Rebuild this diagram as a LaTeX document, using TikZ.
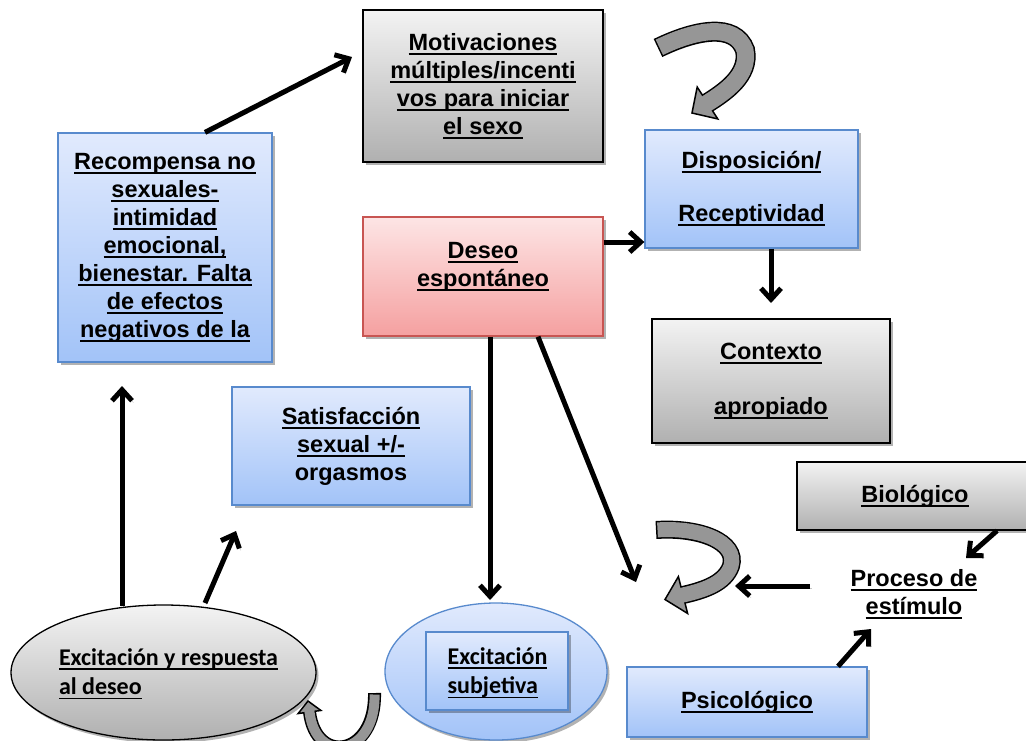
\documentclass[tikz,border=0pt]{standalone}
\usepackage{fontspec}
\usetikzlibrary{arrows.meta,shapes.geometric,shadows,calc}
\newfontfamily\arialfam{Liberation Sans}
\newfontfamily\califam{Carlito}
\newsavebox{\ulxbox}
\newcommand{\ulx}[1]{\sbox{\ulxbox}{#1}\rlap{\rule[-4.6pt]{\wd\ulxbox}{1.8pt}}\usebox{\ulxbox}}
\definecolor{bluetop}{RGB}{225,234,253}
\definecolor{bluebot}{RGB}{162,195,248}
\definecolor{bluedraw}{RGB}{88,138,205}
\definecolor{graytop}{RGB}{243,243,243}
\definecolor{graybot}{RGB}{176,176,176}
\definecolor{redtop}{RGB}{253,229,229}
\definecolor{redbot}{RGB}{245,160,160}
\definecolor{reddraw}{RGB}{200,85,82}
\definecolor{arrgray}{RGB}{150,150,150}
\newcommand{\uturnarrow}[5]{%
  \draw[black, line width=#4pt+3pt] #1;
  \filldraw[fill=arrgray, draw=black, line width=1.5pt, line join=miter]
    (#3) -- ($(#2)!#5pt!90:(#3)$) -- ($(#2)!#5pt!-90:(#3)$) -- cycle;
  \draw[arrgray, line width=#4pt, shorten <=1.5pt] #1 -- ($(#2)!2pt!(#3)$);
}
\tikzset{
  shad/.style={drop shadow={shadow xshift=2.5pt, shadow yshift=-3pt, fill=black, opacity=0.3}},
  box/.style={rectangle, inner sep=0pt, line width=1.3pt, shad},
  bluebox/.style={box, draw=bluedraw, top color=bluetop, bottom color=bluebot},
  graybox/.style={box, draw=black, top color=graytop, bottom color=graybot},
  redbox/.style={box, draw=reddraw, top color=redtop, bottom color=redbot},
  lab/.style={font={\arialfam\bfseries\fontsize{23.5}{28}\selectfont}, align=center},
  clab/.style={font={\califam\bfseries\fontsize{24}{29.5}\selectfont}, align=left, inner sep=0pt},
  arr/.style={line width=5pt, -{Straight Barb[length=11pt,width=20pt]},
    preaction={draw=black, opacity=0.22, transform canvas={xshift=1.5pt,yshift=-2pt}}},
}
\begin{document}
\begin{tikzpicture}[x=1pt,y=-1pt]
\useasboundingbox (0,0) rectangle (1026,740);
\clip (0,0) rectangle (1026,740);

% boxes
\node[graybox, minimum width=240pt, minimum height=152pt, lab] (mot) at (483,86)
  {\ulx{Motivaciones}\\\ulx{múltiples/incenti}\\\ulx{vos para iniciar}\\\ulx{el sexo}};
\node[bluebox, minimum width=214pt, minimum height=229pt, lab] (rec) at (165,247.5)
  {\ulx{Recompensa no}\\\ulx{sexuales-}\\\ulx{intimidad}\\\ulx{emocional,}\\\ulx{bienestar. Falta}\\\ulx{de efectos}\\\ulx{negativos de la}};
\node[redbox, minimum width=240pt, minimum height=119pt] (des) at (483,276.5) {};
\node[lab, inner sep=0pt] (dest) at (483,267) {\ulx{Deseo}\\\ulx{espontáneo}};
\node[bluebox, minimum width=213pt, minimum height=118pt, lab] (disp) at (751.5,189)
  {\ulx{Disposición/}\\[25pt]\ulx{Receptividad}};
\node[graybox, minimum width=238pt, minimum height=124pt, lab] (ctx) at (771,381)
  {\ulx{Contexto}\\[27pt]\ulx{apropiado}};
\node[bluebox, minimum width=238pt, minimum height=118pt, lab] (sat) at (351,446)
  {\ulx{Satisfacción}\\\ulx{sexual +/-}\\orgasmos};
\node[graybox, minimum width=236pt, minimum height=68pt, lab] (bio) at (915,496)
  {\ulx{Biológico}};
\node[bluebox, minimum width=240pt, minimum height=70pt, lab] (psi) at (747,702)
  {\ulx{Psicológico}};
\node[lab, inner sep=0pt] (proc) at (914,594) {\ulx{Proceso de}\\\ulx{estímulo}};

% ellipses
\node[ellipse, inner sep=0pt, line width=1.3pt, draw=black, top color=graytop, bottom color=graybot,
  minimum width=305pt, minimum height=135pt, shad] (ex1) at (163.5,672.5) {};
\node[clab] (ex1t) at (168.5,674) {\ulx{Excitación y respuesta}\\\ulx{al deseo}};
\node[ellipse, inner sep=0pt, line width=1.3pt, draw=bluedraw, top color=bluetop, bottom color=bluebot,
  minimum width=222pt, minimum height=137pt, shad] (ex2) at (496,671.5) {};
\node[bluebox, minimum width=142pt, minimum height=78pt] (ex2r) at (497,671) {};
\node[clab] (ex2t) at (497.5,673) {\ulx{Excitación}\\\ulx{subjetiva}};

% free ends
\coordinate (m1) at (352,57);
\coordinate (dy) at (0,242);
\coordinate (d3) at (771,303);
\coordinate (d4) at (490,600);
\coordinate (d5) at (636,582);
\coordinate (e6) at (122,606);
\coordinate (r6) at (122,386);
\coordinate (e7) at (205,603);
\coordinate (s7) at (236,531);
\coordinate (p8) at (966,558);
\coordinate (p9s) at (810,586);
\coordinate (p9) at (735,586);
\coordinate (p10) at (871,629);

% connectors
\draw[arr] ([xshift=40pt]rec.north) -- (m1);
\draw[arr] (des.east |- dy) -- (disp.west |- dy);
\draw[arr] ([xshift=19.5pt]disp.south) -- (d3);
\draw[arr] ([xshift=7pt]des.south) -- (d4);
\draw[arr] ([xshift=55pt]des.south) -- (d5);
\draw[arr] (e6) -- (r6);
\draw[arr] (e7) -- (s7);
\draw[arr] ([xshift=82pt]bio.south) -- (p8);
\draw[arr] (p9s) -- (p9);
\draw[arr] ([xshift=91pt]psi.north) -- (p10);

% curved block arrows
\coordinate (bA) at (707.5,103);
\coordinate (tA) at (692,113);
\uturnarrow{(658,48) .. controls (695,30) and (735,22) .. (745,50) .. controls (750,75) and (725,92) .. (bA)}{bA}{tA}{17}{19}
\coordinate (bB) at (683,595);
\coordinate (tB) at (665,599.5);
\uturnarrow{(656,530) .. controls (700,527) and (738,542) .. (731,566) .. controls (725,583) and (705,590) .. (bB)}{bB}{tB}{15}{19}
\coordinate (bC) at (309.5,712);
\coordinate (tC) at (308,701);
\uturnarrow{(374.5,693) .. controls (376,756) and (316,766) .. (bC)}{bC}{tC}{10}{11.5}
\end{tikzpicture}
\end{document}
